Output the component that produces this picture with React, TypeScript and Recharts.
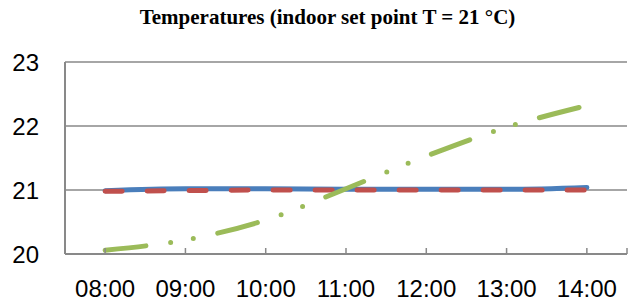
import { LineChart, Line, XAxis, YAxis, CartesianGrid } from 'recharts';

// hours as numbers so the axis can run half an hour past each end
const hours = [8, 9, 10, 11, 12, 13, 14];
const timeLabels = ['08:00', '09:00', '10:00', '11:00', '12:00', '13:00', '14:00'];
const indoorTemp = [20.99, 21.02, 21.02, 21.01, 21.01, 21.01, 21.04];
const setPoint = [20.98, 20.99, 21.0, 21.0, 21.0, 21.0, 21.0];
const otherTemp = [20.06, 20.22, 20.53, 21.02, 21.53, 21.98, 22.32];
const yTicks = [20, 21, 22, 23];
const xTicks = [7.5, 8, 9, 10, 11, 12, 13, 14, 14.5];

const data = hours.map((h, i) => ({
  hour: h,
  indoor: indoorTemp[i],
  setPoint: setPoint[i],
  other: otherTemp[i],
}));

const AXIS_GREY = '#898989';
const FONT = '"Liberation Sans", Arial, sans-serif';

// ticks sit inside the plot (pointing up), labels well below the axis
const TimeTick = ({ x, y, payload }: any) => {
  const idx = hours.indexOf(payload.value);
  return (
    <g>
      <line x1={x} x2={x} y1={y - 6} y2={y} stroke={AXIS_GREY} strokeWidth={1.5} />
      {idx >= 0 && (
        <text x={x} y={y + 43} textAnchor="middle" fill="#000" fontSize={24} fontFamily={FONT}>
          {timeLabels[idx]}
        </text>
      )}
    </g>
  );
};

export default function App() {
  return (
    <div style={{ position: 'absolute', left: 0, top: 0, width: 635, height: 306, background: '#fff' }}>
      <div
        style={{
          position: 'absolute',
          left: 10,
          top: 7,
          width: 635,
          textAlign: 'center',
          fontFamily: '"Liberation Serif", "Times New Roman", serif',
          fontWeight: 'bold',
          fontSize: 21,
          lineHeight: '21px',
        }}
      >
        Temperatures (indoor set point T = 21 °C)
      </div>
      <LineChart width={635} height={306} data={data} margin={{ top: 62, right: 8, left: 0, bottom: 0 }}>
        <CartesianGrid vertical={false} stroke={AXIS_GREY} strokeWidth={1.5} />
        <XAxis
          dataKey="hour"
          type="number"
          domain={[7.5, 14.5]}
          ticks={xTicks}
          height={52}
          tickLine={false}
          tickSize={0}
          tickMargin={0}
          axisLine={{ stroke: AXIS_GREY, strokeWidth: 2 }}
          tick={<TimeTick />}
          interval={0}
        />
        <YAxis
          domain={[20, 23]}
          ticks={yTicks}
          width={65}
          tickLine={false}
          tickSize={0}
          tickMargin={26}
          axisLine={{ stroke: AXIS_GREY, strokeWidth: 2 }}
          tick={{ fill: '#000', fontSize: 24, fontFamily: FONT }}
        />
        <Line
          dataKey="indoor"
          type="monotone"
          stroke="#4a7ebb"
          strokeWidth={5}
          strokeLinecap="round"
          dot={false}
          isAnimationActive={false}
        />
        <Line
          dataKey="setPoint"
          type="monotone"
          stroke="#c0504d"
          strokeWidth={5}
          strokeLinecap="round"
          strokeDasharray="17 25"
          dot={false}
          isAnimationActive={false}
        />
        <Line
          dataKey="other"
          type="monotone"
          stroke="#9bbb59"
          strokeWidth={5}
          strokeLinecap="round"
          strokeDasharray="41 25 0 23 0 25"
          dot={false}
          isAnimationActive={false}
        />
      </LineChart>
    </div>
  );
}
